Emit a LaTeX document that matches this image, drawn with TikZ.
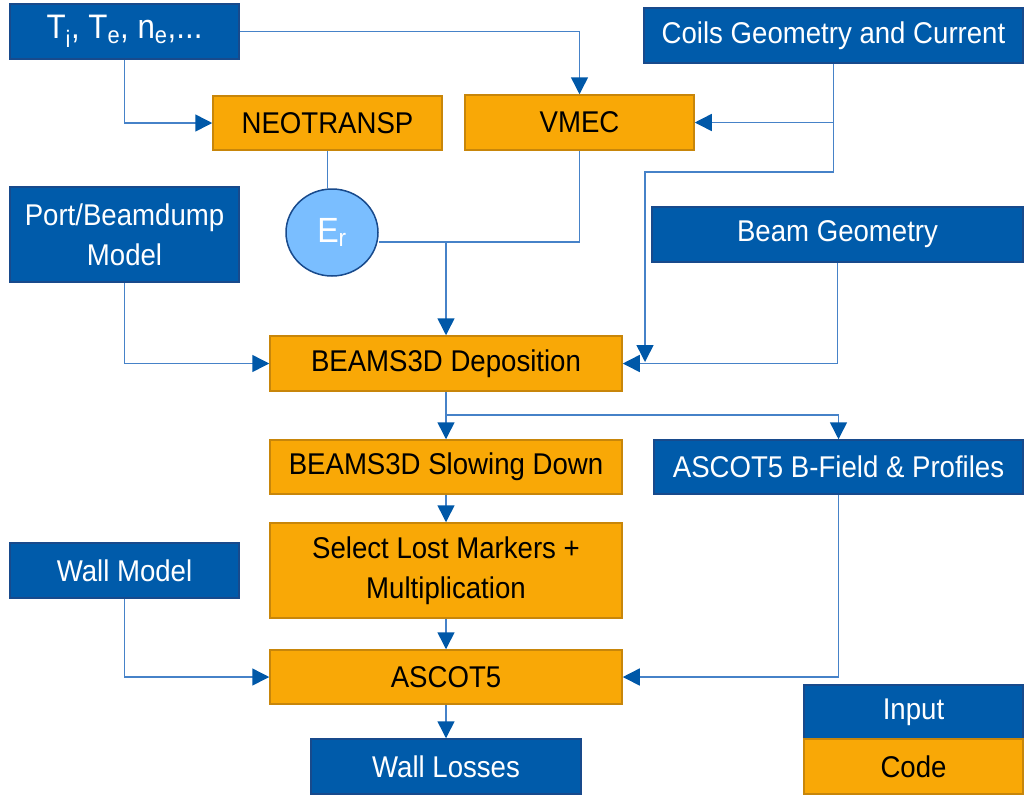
\documentclass[tikz,border=0pt]{standalone}
\usepackage{fontspec}
\setmainfont[FakeStretch=0.92]{Liberation Sans}
\usetikzlibrary{arrows.meta,shapes.geometric}

\definecolor{inblue}{RGB}{0,91,170}
\definecolor{inedge}{RGB}{24,74,140}
\definecolor{codeor}{RGB}{249,168,6}
\definecolor{codeedge}{RGB}{200,134,10}
\definecolor{erfill}{RGB}{122,190,255}
\definecolor{wire}{RGB}{70,130,200}
\definecolor{tipblue}{RGB}{0,88,168}

\tikzset{
  box/.style={rectangle, draw, line width=1.5pt, inner sep=0pt, align=center,
    font=\fontsize{30}{40}\selectfont},
  inbox/.style={box, fill=inblue, draw=inedge, text=white},
  codebox/.style={box, fill=codeor, draw=codeedge, text=black},
  wirelink/.style={draw=wire, line width=1.5pt},
  flow/.style={wirelink, -{Triangle[length=17pt,width=17pt,color=tipblue]}},
}

\begin{document}
\begin{tikzpicture}[x=1pt,y=-1pt]
\useasboundingbox (0,0) rectangle (1024,796);

% inputs
\node[inbox, minimum width=229pt, minimum height=55pt, font=\fontsize{34}{40}\selectfont]
  (ti) at (124.5,31.5) {T\textsubscript{i}, T\textsubscript{e}, n\textsubscript{e},...};
\node[inbox, minimum width=379pt, minimum height=55pt] (coils) at (833.5,35.5) {Coils Geometry and Current};
\node[inbox, minimum width=229pt, minimum height=95pt] (port) at (124.5,234.5) {Port/Beamdump\\Model};
\node[inbox, minimum width=371pt, minimum height=55pt] (beam) at (837.5,234.5) {Beam Geometry};
\node[inbox, minimum width=369pt, minimum height=54pt] (bfield) at (838.5,467) {ASCOT5 B-Field \& Profiles};
\node[inbox, minimum width=229pt, minimum height=55pt] (wall) at (124.5,570.5) {Wall Model};
\node[inbox, minimum width=270pt, minimum height=55pt] (losses) at (446,766.5) {Wall Losses};

% codes
\node[codebox, minimum width=229pt, minimum height=54pt] (neo) at (327.5,123) {NEOTRANSP};
\node[codebox, minimum width=229pt, minimum height=55pt] (vmec) at (579.5,122.5) {VMEC};
\node[codebox, minimum width=352pt, minimum height=55pt] (dep) at (446,363.5) {BEAMS3D Deposition};
\node[codebox, minimum width=352pt, minimum height=54pt] (slow) at (446,467) {BEAMS3D Slowing Down};
\node[codebox, minimum width=352pt, minimum height=95pt] (select) at (446,570.5) {Select Lost Markers +\\Multiplication};
\node[codebox, minimum width=352pt, minimum height=54pt] (asc) at (446,677) {ASCOT5};

% radial electric field
\node[ellipse, draw=inedge, fill=erfill, line width=1.5pt, inner sep=0pt,
  minimum width=92pt, minimum height=87pt, text=white,
  font=\fontsize{35}{40}\selectfont] (er) at (332,232.5) {E\textsubscript{r}};

% legend
\node[inbox, minimum width=219pt, minimum height=54pt] (input) at (913.5,712) {Input};
\node[codebox, minimum width=219pt, minimum height=55pt] (code) at (913.5,766.5) {Code};

% helper points
\coordinate (join) at (446,242);
\coordinate (cturn) at (645,172);
\coordinate (cdrop) at (645,362);
\coordinate (split) at (446,415);

% connectors
\draw[flow] (ti.east) -| (vmec.north);
\draw[flow] (ti.south) |- (neo.west);
\draw[flow] (coils.south) |- (vmec.east);
\draw[flow] (coils.south) |- (cturn) -- (cdrop);
\draw[wirelink] (neo.south) -- (neo.south |- er.north);
\draw[wirelink] (vmec.south) |- (er.east |- join);
\draw[flow] (join) -- (dep.north);
\draw[flow] (port.south) |- (dep.west);
\draw[flow] (beam.south) |- (dep.east);
\draw[flow] (dep.south) -- (slow.north);
\draw[flow] (split) -| (bfield.north);
\draw[flow] (slow.south) -- (select.north);
\draw[flow] (select.south) -- (asc.north);
\draw[flow] (wall.south) |- (asc.west);
\draw[flow] (bfield.south) |- (asc.east);
\draw[flow] (asc.south) -- (losses.north);
\end{tikzpicture}
\end{document}
